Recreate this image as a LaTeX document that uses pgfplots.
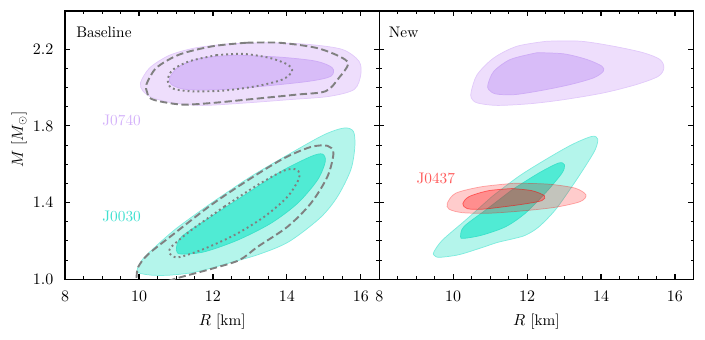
\documentclass[border=0pt]{standalone}
\usepackage{pgfplots}
\pgfplotsset{compat=1.18}

\definecolor{purpL}{RGB}{238,222,252}
\definecolor{purpLe}{RGB}{226,202,250}
\definecolor{purpD}{RGB}{216,188,248}
\definecolor{purpDe}{RGB}{206,172,246}
\definecolor{turqL}{RGB}{180,245,235}
\definecolor{turqLe}{RGB}{125,236,222}
\definecolor{turqD}{RGB}{80,235,212}
\definecolor{turqDe}{RGB}{60,226,202}
\definecolor{purpT}{RGB}{212,178,250}
\definecolor{turqT}{RGB}{64,224,208}
\definecolor{redT}{RGB}{255,90,90}
\definecolor{cgray}{RGB}{128,128,128}

\newcommand{\figfont}{\fontsize{10.5}{12}\selectfont}

\pgfplotsset{
  mrpanel/.style={
    scale only axis, width=215.3pt, height=183.8pt,
    xmin=8, xmax=16.5, ymin=1.0, ymax=2.4,
    xtick={8,10,12,14,16}, ytick={1.0,1.4,1.8,2.2},
    minor x tick num=3, minor y tick num=3,
    tick align=inside,
    major tick length=3.5pt, minor tick length=2pt,
    every major tick/.append style={black, line width=0.8pt},
    every minor tick/.append style={black, line width=0.6pt},
    axis line style={line width=0.8pt},
    tick label style={font=\figfont},
    label style={font=\figfont},
    yticklabel={\pgfmathprintnumber[fixed, fixed zerofill, precision=1]{\tick}},
    xticklabel style={yshift=-5pt},
    yticklabel style={xshift=-4.5pt},
    xlabel={$R$ [km]},
    xlabel style={at={(axis description cs:0.5,0)}, anchor=north, inner sep=0pt, yshift=-24pt},
  },
  lite/.style={smooth, line width=0.5pt},
  cdash/.style={smooth, cgray, line width=1.3pt, dash pattern=on 5pt off 2.4pt},
  cdot/.style={smooth, cgray, line width=1.3pt, dash pattern=on 1.3pt off 2.1pt},
}

\begin{document}
\begin{tikzpicture}
% left panel: baseline
\begin{axis}[mrpanel, at={(0pt,0pt)}, anchor=south west,
    ylabel={$M$ [$M_\odot$]},
    ylabel style={at={(axis description cs:-0.121,0.52)}, anchor=south, inner sep=0pt}]
  % J0740
  \addplot[lite, fill=purpL, draw=purpLe] coordinates {
    (12.45,2.229)(13.53,2.234)(14.60,2.225)(15.50,2.199)(15.95,2.138)(16.00,2.068)
    (15.82,1.990)(15.14,1.954)(14.06,1.937)(12.90,1.920)(11.73,1.907)(10.92,1.920)
    (10.38,1.946)(10.11,1.981)(10.04,2.025)(10.29,2.103)(10.83,2.169)(11.55,2.208)(12.45,2.229)};
  \addplot[lite, fill=purpD, draw=purpDe] coordinates {
    (12.63,2.169)(13.80,2.159)(14.78,2.138)(15.23,2.103)(15.19,2.059)(14.60,2.033)
    (13.35,2.007)(12.27,1.990)(11.28,1.990)(10.88,2.016)(10.83,2.051)(11.10,2.112)
    (11.73,2.155)(12.63,2.169)};
  % J0030
  \addplot[lite, fill=turqL, draw=turqLe] coordinates {
    (11.95,1.396)(13.03,1.536)(14.11,1.658)(15.01,1.754)(15.55,1.789)(15.80,1.771)
    (15.84,1.693)(15.73,1.571)(15.37,1.431)(14.90,1.320)(14.05,1.195)(13.25,1.130)
    (12.50,1.088)(11.55,1.038)(10.83,1.021)(10.34,1.021)(9.99,1.033)(9.96,1.056)
    (10.16,1.117)(10.96,1.257)(11.95,1.396)};
  \addplot[lite, fill=turqD, draw=turqDe] coordinates {
    (12.94,1.449)(13.84,1.562)(14.65,1.640)(14.96,1.653)(15.04,1.614)(14.83,1.518)
    (14.29,1.396)(13.57,1.292)(12.67,1.204)(11.77,1.143)(11.15,1.131)(11.01,1.152)
    (11.15,1.221)(11.95,1.326)(12.94,1.449)};
  % baseline contours
  \addplot[cdash] coordinates {
    (12.90,2.234)(13.80,2.234)(14.78,2.208)(15.41,2.164)(15.66,2.124)(15.41,2.051)
    (15.05,1.981)(14.25,1.963)(12.90,1.937)(12.00,1.920)(11.19,1.911)(10.56,1.928)
    (10.29,1.946)(10.22,1.975)(10.20,2.016)(10.47,2.103)(11.10,2.173)(12.00,2.216)(12.90,2.234)};
  \addplot[cdot] coordinates {
    (12.09,2.169)(12.81,2.176)(13.53,2.155)(14.02,2.120)(14.14,2.085)(13.88,2.042)
    (13.17,2.007)(12.27,1.984)(11.37,1.981)(10.88,1.998)(10.78,2.042)(10.92,2.094)
    (11.37,2.138)(12.09,2.169)};
  \addplot[cdash] coordinates {
    (9.91,0.95)(9.93,1.004)(9.98,1.064)(10.25,1.130)(10.96,1.239)(11.95,1.387)
    (13.03,1.527)(13.93,1.632)(14.65,1.690)(15.10,1.696)(15.26,1.658)(15.10,1.536)
    (14.65,1.396)(14.02,1.274)(13.21,1.169)(12.72,1.100)(12.00,1.056)(11.01,1.004)(10.50,0.97)};
  \addplot[cdot] coordinates {
    (12.31,1.379)(13.21,1.492)(13.93,1.567)(14.27,1.571)(14.33,1.527)(14.02,1.431)
    (13.39,1.326)(12.58,1.230)(11.68,1.152)(11.05,1.114)(10.83,1.135)(10.88,1.169)
    (11.42,1.257)(12.31,1.379)};
  \node[anchor=base west, inner sep=0pt, font=\figfont] at (rel axis cs:0.035,0.9) {Baseline};
  \node[anchor=base west, inner sep=0pt, font=\figfont, text=purpT] at (axis cs:9,1.8) {J0740};
  \node[anchor=base west, inner sep=0pt, font=\figfont, text=turqT] at (axis cs:9,1.3) {J0030};
\end{axis}

% right panel: new
\begin{axis}[mrpanel, at={(215.3pt,0pt)}, anchor=south west, yticklabels={}]
  % J0740
  \addplot[lite, fill=purpL, draw=purpLe] coordinates {
    (12.54,2.242)(13.44,2.242)(14.33,2.216)(15.14,2.182)(15.59,2.147)(15.70,2.103)
    (15.55,2.059)(14.96,2.016)(14.06,1.972)(12.99,1.937)(12.09,1.916)(11.19,1.907)
    (10.65,1.920)(10.49,1.946)(10.49,1.981)(10.65,2.068)(11.10,2.155)(11.73,2.216)(12.54,2.242)};
  \addplot[lite, fill=purpD, draw=purpDe] coordinates {
    (12.27,2.182)(12.99,2.176)(13.61,2.147)(14.02,2.112)(14.06,2.085)(13.80,2.051)
    (13.17,2.016)(12.36,1.984)(11.64,1.963)(11.15,1.967)(10.96,1.990)(10.94,2.016)
    (11.10,2.085)(11.55,2.147)(12.27,2.182)};
  % J0030
  \addplot[lite, fill=turqL, draw=turqLe] coordinates {
    (11.05,1.431)(11.77,1.536)(12.49,1.623)(13.21,1.702)(13.75,1.745)(13.91,1.731)
    (13.84,1.675)(13.57,1.588)(13.21,1.483)(12.76,1.361)(12.31,1.272)(11.95,1.229)
    (11.60,1.210)(11.20,1.192)(10.78,1.165)(10.16,1.128)(9.62,1.114)(9.48,1.126)(9.48,1.143)
    (9.71,1.204)(10.34,1.309)(11.05,1.431)};
  \addplot[lite, fill=turqD, draw=turqDe] coordinates {
    (11.59,1.466)(12.31,1.553)(12.85,1.606)(13.01,1.597)(12.94,1.553)(12.49,1.449)
    (11.95,1.344)(11.42,1.274)(10.78,1.230)(10.29,1.213)(10.20,1.221)(10.29,1.274)
    (10.88,1.361)(11.59,1.466)};
  % J0437
  \addplot[lite, fill=red, fill opacity=0.2, draw=red, draw opacity=0.3] coordinates {
    (11.68,1.501)(12.58,1.496)(13.30,1.475)(13.59,1.440)(13.44,1.405)(12.76,1.375)
    (11.86,1.356)(10.96,1.344)(10.25,1.347)(9.89,1.365)(9.84,1.396)(10.07,1.449)
    (10.78,1.483)(11.68,1.501)};
  \addplot[lite, fill=red, fill opacity=0.3, draw=red, draw opacity=0.5] coordinates {
    (11.59,1.473)(12.13,1.462)(12.47,1.435)(12.40,1.410)(11.95,1.393)(11.42,1.379)
    (10.78,1.365)(10.38,1.368)(10.26,1.393)(10.43,1.431)(10.96,1.462)(11.59,1.473)};
  \node[anchor=base west, inner sep=0pt, font=\figfont] at (rel axis cs:0.03,0.9) {New};
  \node[anchor=base west, inner sep=0pt, font=\figfont, text=redT] at (axis cs:9,1.5) {J0437};
\end{axis}
\pgfresetboundingbox
\path (-44.6pt,-41.1pt) rectangle (438.5pt,191.3pt);
\end{tikzpicture}
\end{document}
